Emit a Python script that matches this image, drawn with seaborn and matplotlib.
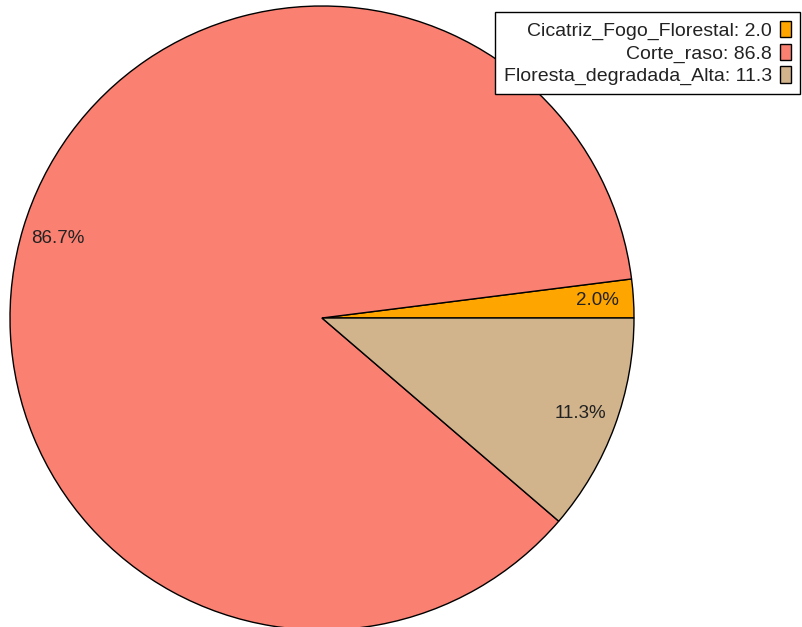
import matplotlib
matplotlib.use('Agg')
import matplotlib.pyplot as plt
import seaborn as sns

sns.set_style('white')
plt.rcParams['font.family'] = ['Liberation Sans', 'DejaVu Sans']

# Datos del gráfico
categorias = ['Cicatriz_Fogo_Florestal', 'Corte_raso', 'Floresta_degradada_Alta']
valores = [2.0, 86.8, 11.3]
colores = ['#FFA500', '#FA8072', '#D2B48C']

fig = plt.figure(figsize=(8.03, 6.27), dpi=100)
ax = fig.add_axes([10 / 803, -3 / 627, 624 / 803, 624 / 627])

wedges, textos, pcts = ax.pie(
    valores, colors=colores, startangle=0, counterclock=True,
    autopct='%1.1f%%', pctdistance=0.885, radius=1,
    wedgeprops={'edgecolor': 'black', 'linewidth': 1},
    textprops={'fontsize': 13.5, 'color': '#222222'})
ax.set_xlim(-1, 1)
ax.set_ylim(-1, 1)
ax.axis('off')

etiquetas = [f'{c}: {v}' for c, v in zip(categorias, valores)]
leg = fig.legend(wedges, etiquetas, loc='upper right',
                 bbox_to_anchor=(800 / 803, 1 - 12 / 627),
                 markerfirst=False, fontsize=14, frameon=True,
                 fancybox=False, edgecolor='black', framealpha=1,
                 handlelength=0.6, handleheight=0.9, handletextpad=0.4,
                 labelspacing=0.2, borderpad=0.45, borderaxespad=0)
leg.get_frame().set_linewidth(1)
for t in leg.get_texts():
    t.set_color('#222222')

fig.savefig('out.png', dpi=100)
